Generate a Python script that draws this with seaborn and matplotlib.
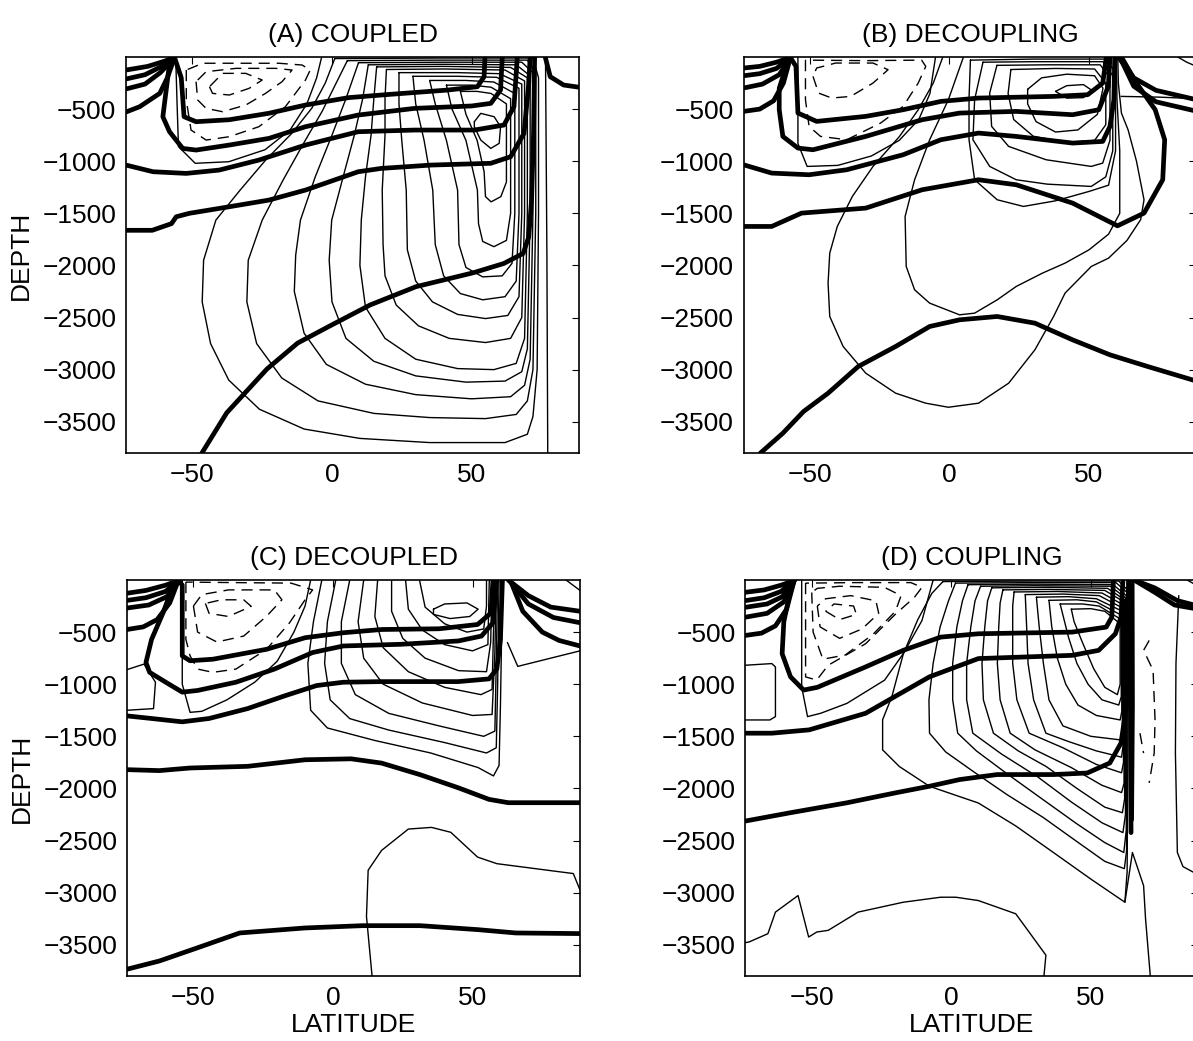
import pandas as pd
import seaborn as sns
import matplotlib.pyplot as plt

# every line is a list of (latitude, depth) points

# ---------------- (A) COUPLED ----------------
A_THICK = [
    [(-56.4, -5), (-60, -40), (-66, -90), (-73.8, -125)],
    [(-56.4, -5), (-61, -90), (-67, -170), (-73.8, -211)],
    [(-56.4, -5), (-61.5, -150), (-67, -260), (-73.8, -307)],
    [(-56.4, -5), (-59, -200), (-61.7, -349), (-68.9, -477), (-73.8, -528)],
    [(-56.4, -5), (-54, -200), (-53, -573), (-48.7, -621), (-36.8, -602), (-22.6, -540), (-9.5, -461),
     (5.9, -390), (20, -360), (41.5, -317), (52.1, -285), (54.5, -189), (54.8, 0)],
    [(-56.4, -5), (-58.2, -60), (-60.6, -573), (-58.2, -717), (-53.5, -877), (-48.7, -893), (-36.8, -845),
     (-22.6, -781), (-9.5, -669), (9.4, -557), (29.6, -493), (50, -470), (56.9, -445), (60.4, -317), (61, 0)],
    [(-73.8, -1037), (-64.1, -1101), (-52.2, -1117), (-40.4, -1085), (-26.2, -989), (-9.5, -845), (9.4, -717),
     (29.6, -701), (51, -701), (61.6, -653), (65.2, -477), (66.4, 0)],
    [(-73.8, -1663), (-64.4, -1663), (-57.5, -1599), (-55.8, -1533), (-51.1, -1500), (-36.8, -1437),
     (-22.6, -1373), (-9.5, -1277), (9.4, -1101), (17.7, -1069), (35.5, -1037), (56.9, -1020), (64, -957),
     (68.8, -733), (70.5, -253), (71, 0)],
    [(-46.6, -3800), (-37.7, -3414), (-23.3, -2994), (-12.3, -2745), (0, -2570), (13.7, -2379), (30.1, -2204),
     (50.7, -2070), (61.6, -1981), (68.5, -1885), (70.5, -1726), (71.5, -1376), (72.2, -739), (72.6, 0)],
    [(76.4, 0), (78.2, -189), (83, -269), (88.5, -290)],
]
A_THIN = [
    [(1, -15), (40, -10), (72, -10), (74, -200), (74, -1500), (73.5, -3000), (72, -3450), (70, -3620),
     (62, -3700), (35, -3700), (10, -3660), (-10, -3570), (-26, -3380), (-37, -3100), (-43.5, -2750),
     (-46.5, -2350), (-46, -1950), (-41.6, -1565), (-33, -1280), (-23.8, -990), (-14.3, -730), (-7.2, -490),
     (-2.4, -250), (1, -15)],
    [(5.5, -35), (40, -30), (70, -30), (73, -150), (73, -1500), (72, -3000), (70, -3300), (66, -3430),
     (55, -3470), (35, -3460), (15, -3420), (-5, -3300), (-18, -3080), (-27, -2750), (-30.5, -2350),
     (-30, -1950), (-25, -1565), (-17.5, -1180), (-10, -820), (-3.5, -520), (1.5, -250), (5.5, -35)],
    [(9.5, -55), (40, -50), (68, -50), (72, -150), (72, -1500), (71, -2900), (69, -3150), (64, -3260),
     (50, -3280), (30, -3240), (12, -3140), (-2, -2950), (-10, -2650), (-13.5, -2250), (-13, -1900),
     (-11.3, -1565), (-6, -1150), (0, -750), (5, -400), (9.5, -55)],
    [(13, -75), (40, -70), (66, -75), (71, -180), (71, -1500), (70, -2800), (68, -3020), (62, -3110),
     (48, -3120), (30, -3060), (15, -2920), (5, -2700), (0, -2350), (-1, -1950), (-0.1, -1565), (4, -1150),
     (8, -750), (11, -400), (13, -75)],
    [(16, -95), (40, -90), (64, -100), (70, -200), (70, -1500), (69, -2700), (66, -2940), (58, -3000),
     (45, -2990), (30, -2900), (19, -2700), (12, -2400), (10, -2000), (10.5, -1565), (12, -1150), (14, -750),
     (15, -400), (16, -95)],
    [(19.5, -120), (40, -115), (62, -125), (69, -230), (69, -1500), (68, -2500), (64, -2700), (55, -2740),
     (42, -2700), (31, -2580), (23, -2380), (19, -2100), (18.3, -1800), (18, -1277), (19, -750), (19, -400),
     (19.5, -120)],
    [(24, -150), (45, -150), (60, -160), (68, -260), (68, -1500), (67, -2300), (63, -2480), (55, -2510),
     (45, -2470), (36, -2350), (30, -2150), (27, -1850), (26.6, -1277), (25, -800), (24, -450), (24, -150)],
    [(29, -185), (45, -185), (59, -195), (67, -300), (67, -1500), (66, -2150), (62, -2300), (54, -2330),
     (46, -2270), (40, -2100), (37, -1800), (36.1, -1277), (33, -800), (30, -450), (29, -185)],
    [(35, -225), (48, -225), (58, -240), (65.5, -350), (65.5, -1500), (64.5, -1980), (61, -2100), (54, -2110),
     (48, -2020), (45.5, -1800), (45, -1277), (41, -800), (37, -450), (35, -225)],
    [(41, -270), (50, -270), (57, -290), (64, -400), (64, -1500), (62.5, -1760), (58, -1820), (54, -1770),
     (52.5, -1600), (52.1, -1277), (48, -800), (43, -500), (41, -270)],
    [(46, -330), (52, -330), (57, -350), (62.5, -450), (62.5, -1200), (60.5, -1340), (57, -1390), (55, -1340),
     (54.5, -1100), (52, -800), (48, -550), (46, -330)],
    [(51.0, -621), (53.3, -541), (58.1, -573), (60.4, -669), (59.9, -829), (56.9, -877), (53.3, -797),
     (51.0, -669), (51.0, -621)],
    [(-56, 0), (-55.5, -450), (-55, -860), (-49, -1020), (-37, -1005), (-24, -890), (-15, -700), (-9, -450),
     (-5.5, -200), (-3.7, 0)],
    [(76.5, 0), (77, -1900), (77.3, -3800)],
]
A_DASHED = [
    [(-52.2, -125), (-52.2, -413), (-50.5, -701), (-45.1, -797), (-36.8, -765), (-26.2, -669), (-16.7, -477),
     (-9.5, -221), (-7.8, -125), (-10.7, -77), (-19, -60), (-36.8, -60), (-46.3, -60), (-52.2, -125)],
    [(-48.7, -237), (-48.1, -413), (-45.1, -493), (-39.2, -525), (-30.9, -461), (-23.8, -349), (-17.9, -237),
     (-14.3, -125), (-20.2, -109), (-34.4, -109), (-45.1, -141), (-48.7, -237)],
    [(-43.9, -285), (-42.8, -349), (-36.8, -365), (-29.7, -301), (-25, -221), (-30.9, -157), (-39.2, -157),
     (-43.9, -285)],
]

# ---------------- (B) DECOUPLING ----------------
B_THICK = [
    [(-57, -5), (-62, -50), (-68, -90), (-73.8, -106)],
    [(-57, -5), (-62, -110), (-68, -160), (-73.8, -180)],
    [(-57, -5), (-61, -170), (-67, -260), (-73.8, -298)],
    [(-57, -5), (-59.5, -250), (-63, -420), (-68, -500), (-73.8, -522)],
    [(-57, -5), (-55, -90), (-54.3, -538), (-47.6, -618), (-30.1, -570), (-16.6, -506), (-3.1, -426),
     (10.4, -394), (37.3, -378), (49.5, -362), (54.9, -250), (56.2, 0)],
    [(-57.5, -5), (-61, -300), (-61, -506), (-59.7, -762), (-54.3, -874), (-48.9, -890), (-30, -762),
     (-9.8, -602), (3.6, -538), (23.9, -522), (44.1, -554), (53.5, -506), (56.9, -282), (57.5, 0)],
    [(-73.8, -1034), (-63.7, -1114), (-50.3, -1130), (-36.8, -1082), (-16.6, -938), (-3.1, -794), (10.4, -730),
     (23.9, -762), (44.1, -826), (54.9, -810), (57.5, -666), (58.9, -410), (59.2, 0)],
    [(-73.8, -1626), (-63.7, -1626), (-53, -1498), (-30, -1450), (-9.8, -1274), (10.4, -1178), (23.9, -1226),
     (44.1, -1402), (60.2, -1620), (69.7, -1498), (76.4, -1178), (77.1, -794), (73.7, -506), (67, -250),
     (61.6, 0)],
    [(-67.8, -3802), (-59.7, -3610), (-52.3, -3402), (-43.5, -3226), (-32.7, -2970), (-19.3, -2778),
     (-7.1, -2586), (3.6, -2522), (17.1, -2490), (30.6, -2554), (44.1, -2714), (57.5, -2858), (71, -2970),
     (88.5, -3110)],
    [(60.5, 0), (66, -200), (74, -320), (88.5, -410)],
    [(61, 0), (66, -280), (74, -430), (88.5, -520)],
]
B_THIN = [
    [(-54.3, 0), (-54.3, -830), (-51, -1050), (-40, -1040), (-28, -950), (-18, -800), (-11, -600), (-7, -350),
     (-5, 0)],
    [(-2.4, 0), (-5.8, -250), (-11.2, -506), (-17.9, -762), (-27.4, -1050), (-34.8, -1338), (-40.2, -1626),
     (-42.9, -1882), (-43.5, -2170), (-42.9, -2490), (-38.1, -2778), (-30, -3034), (-19.3, -3226),
     (-8.5, -3322), (-0.4, -3361), (10.4, -3322), (21.2, -3130), (30.6, -2810), (37.3, -2490), (41.4, -2266),
     (50.8, -2010), (57, -1930), (63.6, -1760), (68.5, -1560), (69.7, -1370), (67, -1000), (64, -700),
     (61.6, -538), (60.5, -250), (60.3, 0)],
    [(5, 0), (-0.4, -410), (-7.1, -794), (-12.5, -1178), (-15.9, -1530), (-15.5, -2010), (-12.5, -2234),
     (-7.1, -2362), (3.6, -2474), (9, -2458), (17.1, -2330), (23.9, -2202), (33.3, -2074), (41.4, -1978),
     (50, -1850), (57, -1700), (61, -1500), (61, -900), (60, -400), (59.8, 0)],
    [(7.5, -30), (30, -20), (56, -20), (59.5, -150), (59.5, -900), (57, -1230), (50, -1290), (38, -1380),
     (26.5, -1434), (17.1, -1370), (9, -1178), (7, -794), (7, -400), (7.5, -30)],
    [(12, -50), (30, -45), (55, -45), (58.5, -180), (58.5, -900), (56, -1150), (50.8, -1242), (35, -1220),
     (23.9, -1178), (14.4, -1050), (8.4, -794), (9, -410), (12, -50)],
    [(17, -80), (35, -75), (54, -75), (57.5, -200), (57.5, -800), (54.9, -1018), (50.8, -1050), (34.6, -986),
     (21.2, -858), (15.1, -666), (14.4, -346), (17, -80)],
    [(22, -120), (38, -110), (52, -115), (56, -250), (56, -650), (52, -800), (42, -820), (30, -760), (23, -600),
     (21, -350), (22, -120)],
    [(28, -310), (33, -200), (42, -165), (52, -180), (55, -300), (53, -550), (46, -700), (38, -720), (31, -620),
     (28, -450), (28, -310)],
    [(38, -330), (42, -275), (48, -265), (51, -320), (48, -390), (42, -395), (38, -330)],
    [(61.5, -378), (75, -385), (88.5, -400)],
    [(81.8, 0), (85, -50), (88.5, -90)],
]
B_DASHED = [
    [(-51.6, -30), (-51.6, -410), (-50.3, -666), (-46.2, -762), (-36.8, -794), (-24.7, -634), (-16.6, -474),
     (-11.2, -250), (-8.5, -90), (-10, -30), (-30, -35), (-51.6, -30)],
    [(-48.9, -186), (-46.9, -346), (-42.2, -394), (-35.4, -378), (-27.4, -250), (-22, -122), (-27.4, -58),
     (-40.8, -58), (-47.6, -106), (-48.9, -186)],
]

# ---------------- (C) DECOUPLED ----------------
C_THICK = [
    [(-55.4, -5), (-60, -50), (-67, -100), (-73.8, -127)],
    [(-55.4, -5), (-60, -110), (-67, -170), (-73.8, -196)],
    [(-55.4, -5), (-59.5, -160), (-66, -240), (-73.8, -269)],
    [(-55.4, -5), (-58.5, -220), (-63, -380), (-68, -450), (-73.8, -475)],
    [(-55.4, -5), (-54, -48), (-54, -728), (-51.2, -775), (-43, -760), (-23.8, -665), (-10, -554), (3.7, -506),
     (17.4, -475), (38, -468), (51.8, -427), (56.6, -317), (57.3, 0)],
    [(-55.6, 0), (-57.4, -63), (-60.9, -316), (-65, -570), (-67, -791), (-65.7, -886), (-60.9, -965),
     (-54, -1076), (-48.5, -1060), (-34.8, -981), (-21, -855), (-7.3, -696), (3.7, -633), (24.3, -617),
     (44.9, -585), (53.2, -538), (57.3, -411), (58.7, 0)],
    [(-73.8, -1304), (-65, -1329), (-54, -1361), (-44.4, -1329), (-30.6, -1234), (-16.9, -1108), (-5.9, -1013),
     (3.7, -981), (17.4, -975), (44.9, -975), (55.9, -949), (58.7, -854), (60, -570), (60.7, 0)],
    [(-73.8, -1820), (-62.2, -1829), (-51.2, -1804), (-30.6, -1788), (-10, -1725), (6.5, -1716), (17.4, -1757),
     (31.2, -1868), (44.9, -1994), (55.9, -2105), (62.8, -2137), (88.5, -2137)],
    [(-73.8, -3735), (-62.2, -3656), (-48.5, -3529), (-33.4, -3387), (-10, -3339), (10.6, -3317),
     (31.2, -3317), (51.8, -3355), (65.5, -3387), (88.5, -3393)],
    [(62.8, 0), (70, -150), (78, -260), (88.5, -300)],
    [(63, 0), (70, -230), (79, -360), (88.5, -410)],
    [(63.5, 0), (68, -300), (75, -500), (81, -580), (88.5, -633)],
]
C_THIN = [
    [(-4, 0), (-7, -400), (-9, -800), (-8, -1250), (-2, -1420), (15, -1540), (35, -1660), (52, -1800),
     (57.5, -1880), (59.5, -1780), (60, -1200), (60.5, -400), (60.5, 0)],
    [(1, 0), (-2, -400), (-3, -800), (-1, -1150), (6, -1330), (20, -1440), (40, -1560), (55, -1660),
     (58.5, -1610), (59, -1000), (59.5, 0)],
    [(6, 0), (3, -400), (3, -800), (8, -1100), (20, -1280), (38, -1400), (54, -1500), (58, -1450),
     (58.5, -800), (59, 0)],
    [(11, 0), (9, -400), (11, -750), (18, -1000), (32, -1180), (50, -1300), (57, -1290), (58, -700), (58.5, 0)],
    [(16, 0), (15, -350), (18, -650), (27, -880), (40, -1030), (53, -1100), (57, -1050), (57.5, -500), (58, 0)],
    [(21, 0), (21, -300), (25, -560), (33, -750), (45, -870), (55, -880), (56.5, -600), (57, 0)],
    [(26, 0), (27, -280), (32, -480), (40, -620), (50, -680), (55.5, -620), (56, 0)],
    [(31, 0), (33, -260), (40, -420), (48, -500), (54, -470), (55, -250), (55, 0)],
    [(36, -280), (40, -230), (48, -220), (52, -280), (49, -350), (42, -370), (36, -330), (36, -280)],
    [(14, -3800), (12, -3229), (12.6, -2785), (17.4, -2595), (27, -2390), (35.3, -2374), (42.2, -2421),
     (51.8, -2659), (58.7, -2722), (86.1, -2817), (88.5, -2975)],
    [(-73.8, -860), (-67.7, -807), (-63.6, -981), (-64.3, -1234), (-73.8, -1250)],
    [(-54, 0), (-54, -1000), (-51.2, -1270), (-47, -1260), (-38, -1150), (-28, -980), (-20, -780), (-14, -500),
     (-10, -250), (-8, 0)],
    [(62.5, -600), (66.2, -829), (75, -770), (88.5, -680)],
    [(83.5, 0), (88.5, -100)],
]
C_DASHED = [
    [(-52.7, -20), (-52.7, -570), (-51.2, -728), (-48.5, -855), (-43, -886), (-34.8, -855), (-23.8, -665),
     (-15.6, -412), (-10, -190), (-7.3, -95), (-15, -30), (-35, -25), (-52.7, -20)],
    [(-50, -250), (-48.5, -500), (-41.6, -595), (-32, -538), (-23.8, -348), (-18.3, -190), (-21, -95),
     (-37.4, -95), (-47, -140), (-50, -250)],
    [(-45.7, -225), (-44.4, -320), (-37.5, -350), (-29.3, -253), (-32, -190), (-40, -190), (-45.7, -225)],
]

# ---------------- (D) COUPLING ----------------
D_THICK = [
    [(-56.3, -5), (-61, -50), (-67, -95), (-73.8, -118)],
    [(-56.3, -5), (-61, -110), (-67, -170), (-73.8, -198)],
    [(-56.3, -5), (-60.5, -160), (-66, -230), (-73.8, -262)],
    [(-56.3, -5), (-60, -210), (-66, -320), (-73.8, -357)],
    [(-56.3, -5), (-59, -280), (-63, -440), (-68, -510), (-73.8, -532)],
    [(-56.3, -5), (-58, -150), (-60, -400), (-60.6, -707), (-57.6, -929), (-52.9, -1056), (-48, -1030),
     (-30.7, -834), (-17.2, -675), (-3.8, -548), (9.7, -516), (43.3, -500), (55.5, -452), (57.5, -357),
     (58.1, 0)],
    [(-73.8, -1470), (-64.3, -1470), (-50.9, -1438), (-30.7, -1279), (-7.8, -929), (9.7, -754), (43.3, -723),
     (52.8, -675), (58.8, -516), (60.8, -357), (61.5, 0)],
    [(-73.8, -2313), (-57.6, -2233), (-37.4, -2138), (-19.9, -2042), (-7.8, -1979), (3, -1915), (16.4, -1867),
     (36.6, -1867), (48.7, -1852), (56.8, -1756), (60.8, -1565), (62.9, -1184), (63.5, 0)],
    [(64.0, 0), (64.2, -1200), (64.4, -2424)],
    [(64.8, 0), (64.9, -1200), (64.6, -2300)],
    [(65.5, 0), (72.9, -76), (81, -198), (88.5, -250)],
    [(65.5, 0), (73, -120), (80, -240), (88.5, -280)],
]
D_THIN = [
    [(-3, -15), (30, -10), (60, -10), (63.3, -100), (63.3, -1500), (63, -2800), (62.2, -3092), (50, -2870),
     (36.6, -2615), (23.1, -2360), (9.7, -2140), (-7.8, -1980), (-18.6, -1790), (-24.6, -1630),
     (-24.6, -1340), (-21.3, -1120), (-17.2, -710), (-12, -380), (-7, -130), (-3, -15)],
    [(1.5, -30), (30, -25), (59, -25), (63, -120), (63, -1500), (62.8, -2600), (62, -2770), (55, -2700),
     (45, -2510), (33, -2280), (20, -2060), (8, -1840), (-2, -1650), (-7.8, -1470), (-8, -1150),
     (-6.5, -800), (-4, -450), (-1, -200), (1.5, -30)],
    [(6, -45), (30, -40), (58, -45), (62.7, -150), (62.7, -2400), (61.8, -2615), (55, -2520), (45, -2340),
     (33, -2110), (20, -1860), (9, -1640), (2.3, -1470), (0.5, -1150), (0.5, -800), (2, -450), (4, -200),
     (6, -45)],
    [(10.5, -60), (30, -55), (57, -60), (62.4, -170), (62.4, -2250), (61.5, -2424), (54, -2330), (43, -2130),
     (31, -1890), (18, -1670), (7.7, -1470), (5.5, -1150), (5.5, -800), (7, -450), (8.5, -200), (10.5, -60)],
    [(14.5, -75), (35, -70), (56, -80), (62.1, -190), (62.1, -2100), (61.3, -2233), (55, -2180), (45, -2000),
     (34, -1790), (24, -1640), (15.1, -1470), (11.5, -1150), (11, -800), (12, -450), (13, -200), (14.5, -75)],
    [(18.5, -95), (35, -90), (55, -100), (61.9, -210), (61.9, -1950), (61, -2040), (54, -1970), (43, -1800),
     (30, -1630), (21.1, -1470), (17.5, -1150), (16.5, -800), (17, -450), (17.5, -220), (18.5, -95)],
    [(22.5, -115), (38, -110), (54, -125), (61.7, -240), (61.7, -1750), (61, -1850), (52, -1770), (40, -1610),
     (27.9, -1470), (23.5, -1150), (22, -800), (22, -450), (22, -250), (22.5, -115)],
    [(26.5, -140), (40, -135), (53, -150), (61.5, -270), (61.5, -1600), (61, -1700), (52, -1640), (42, -1550),
     (33.9, -1470), (29.5, -1150), (27.5, -800), (27, -450), (26.5, -140)],
    [(30.5, -165), (42, -160), (52, -180), (61.3, -300), (61.3, -1450), (60.5, -1534), (50, -1500),
     (40, -1400), (35, -1150), (33, -800), (31.5, -450), (30.5, -165)],
    [(35, -195), (45, -190), (52, -210), (61.1, -340), (61.1, -1260), (60.5, -1343), (52, -1300),
     (45.4, -1200), (41, -1000), (38, -750), (36, -450), (35, -195)],
    [(39, -230), (47, -230), (53, -250), (60.9, -380), (60.9, -1120), (60, -1200), (54, -1150), (49, -1000),
     (45, -800), (42, -550), (39, -230)],
    [(43, -280), (50, -275), (55, -300), (60.5, -420), (60.5, -1000), (59.5, -1100), (55, -1030), (51, -850),
     (47, -600), (44, -400), (43, -280)],
    [(-73.8, -3480), (-72.4, -3473), (-65.7, -3394), (-63, -3187), (-54.9, -3028), (-51.1, -3426),
     (-48.2, -3378), (-44.1, -3362), (-33.4, -3187), (-17.2, -3092), (-3.8, -3044), (1.6, -3044),
     (9.7, -3076), (23.1, -3203), (33.9, -3600), (33.2, -3800)],
    [(-73.8, -818), (-64.3, -802), (-63, -834), (-63, -1311), (-65, -1343), (-73.8, -1343)],
    [(-53.6, 0), (-53.6, -1025), (-51.5, -1311), (-46.8, -1279), (-37.4, -1184), (-23.9, -961), (-17.2, -707),
     (-10.5, -389), (-6.5, 0)],
    [(62.2, -3092), (64.9, -2615), (68.9, -2933), (69.6, -3251), (71.3, -3800)],
    [(81.5, -150), (80.5, -800), (80.3, -1661), (81, -2615), (83, -2750), (88.5, -2830)],
    [(84.5, 0), (88.5, -60)],
]
D_DASHED = [
    [(-52.2, -30), (-52.2, -930), (-48.2, -960), (-44.1, -818), (-30.7, -612), (-19.9, -325), (-13.2, -166),
     (-10.5, -70), (-14.5, -25), (-35, -25), (-52.2, -30)],
    [(-50, -120), (-49.5, -500), (-46, -760), (-38, -720), (-28, -520), (-20, -300), (-18, -150), (-24, -70),
     (-40, -60), (-48, -80), (-50, -120)],
    [(-48, -250), (-47, -450), (-40, -560), (-32, -470), (-26, -320), (-27, -200), (-36, -150), (-45, -180),
     (-48, -250)],
    [(-45, -300), (-40, -380), (-34, -330), (-35, -250), (-42, -230), (-45, -300)],
    [(70.9, -580), (68.9, -675), (72.3, -866), (73, -1343), (72.7, -1661), (70.9, -1947)],
    [(67.6, -1470), (68.9, -1661)],
]

TITLES = ["(A) COUPLED", "(B) DECOUPLING", "(C) DECOUPLED", "(D) COUPLING"]
X_TICKS = [-50, 0, 50]
Y_TICKS = [-3500, -3000, -2500, -2000, -1500, -1000, -500]


def to_frame(lines):
    rows = []
    for i, pts in enumerate(lines):
        for lat, dep in pts:
            rows.append((i, lat, dep))
    return pd.DataFrame(rows, columns=["line", "lat", "depth"])


def draw_panel(ax, thick, thin, dashed, title):
    sns.lineplot(data=to_frame(thin), x="lat", y="depth", units="line", estimator=None, sort=False,
                 color="black", linewidth=1.0, ax=ax, legend=False)
    sns.lineplot(data=to_frame(dashed), x="lat", y="depth", units="line", estimator=None, sort=False,
                 color="black", linewidth=1.0, linestyle=(0, (8, 5)), ax=ax, legend=False)
    sns.lineplot(data=to_frame(thick), x="lat", y="depth", units="line", estimator=None, sort=False,
                 color="black", linewidth=3.4, solid_joinstyle="round", ax=ax, legend=False)
    ax.set_xlim(-73.8, 88.5)
    ax.set_ylim(-3800, 0)
    ax.set_xticks(X_TICKS)
    ax.set_yticks(Y_TICKS)
    ax.set_xlabel("")
    ax.set_ylabel("")
    ax.tick_params(direction="in", top=True, right=True, length=5, width=0.8, labelsize=19, pad=7,
                   colors="black")
    for sp in ax.spines.values():
        sp.set_linewidth(1.2)
        sp.set_color("black")
    ax.set_title(title, fontsize=19, pad=11, color="black")


sns.set_theme(style="white")
plt.rcParams["font.family"] = ["Liberation Sans", "DejaVu Sans"]
plt.rcParams["text.color"] = "black"
plt.rcParams["axes.labelcolor"] = "black"

fig = plt.figure(figsize=(11.93, 10.41), dpi=100)
W, H = 1193, 1041
axA = fig.add_axes([126 / W, (H - 453) / H, 453 / W, 396 / H])
axB = fig.add_axes([743.5 / W, (H - 453) / H, 453 / W, 396 / H])
axC = fig.add_axes([127 / W, (H - 976) / H, 453 / W, 396 / H])
axD = fig.add_axes([745.3 / W, (H - 976) / H, 453 / W, 396 / H])

draw_panel(axA, A_THICK, A_THIN, A_DASHED, TITLES[0])
draw_panel(axB, B_THICK, B_THIN, B_DASHED, TITLES[1])
draw_panel(axC, C_THICK, C_THIN, C_DASHED, TITLES[2])
draw_panel(axD, D_THICK, D_THIN, D_DASHED, TITLES[3])

axA.set_ylabel("DEPTH", fontsize=19, labelpad=7)
axC.set_ylabel("DEPTH", fontsize=19, labelpad=7)
axC.set_xlabel("LATITUDE", fontsize=19, labelpad=2)
axD.set_xlabel("LATITUDE", fontsize=19, labelpad=2)

fig.savefig("out.png", dpi=100)
